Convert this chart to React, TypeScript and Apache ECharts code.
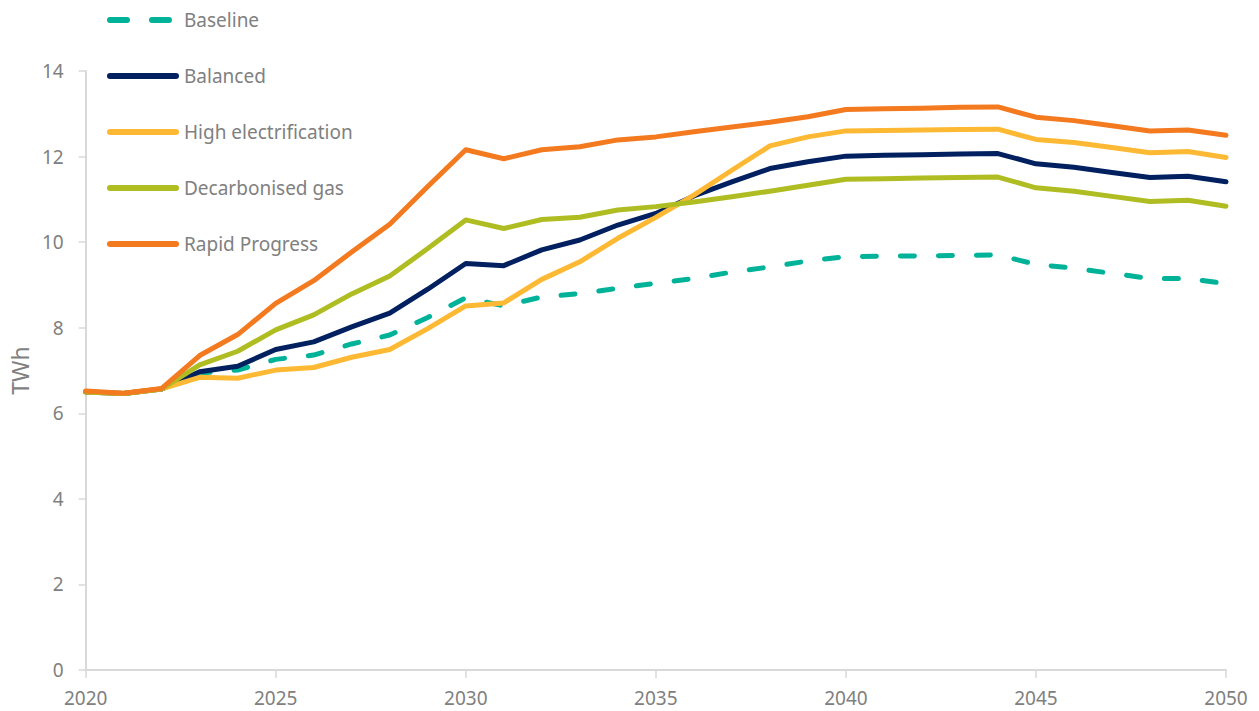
import React, { useEffect, useRef } from "react";
import * as echarts from "echarts";

const years = [2020, 2021, 2022, 2023, 2024, 2025, 2026, 2027, 2028, 2029, 2030, 2031, 2032, 2033, 2034, 2035, 2036, 2037, 2038, 2039, 2040, 2041, 2042, 2043, 2044, 2045, 2046, 2047, 2048, 2049, 2050];

const baseline = [6.5, 6.46, 6.57, 6.94, 7.01, 7.26, 7.36, 7.62, 7.83, 8.24, 8.7, 8.51, 8.72, 8.8, 8.92, 9.04, 9.15, 9.3, 9.42, 9.56, 9.66, 9.67, 9.68, 9.69, 9.7, 9.48, 9.39, 9.27, 9.15, 9.15, 9.03];
const balanced = [6.5, 6.46, 6.57, 6.97, 7.1, 7.49, 7.67, 8.02, 8.34, 8.9, 9.5, 9.45, 9.82, 10.05, 10.4, 10.67, 11.08, 11.41, 11.72, 11.88, 12.01, 12.03, 12.04, 12.06, 12.07, 11.83, 11.75, 11.63, 11.51, 11.54, 11.41];
const highElectrification = [6.5, 6.46, 6.57, 6.84, 6.82, 7.01, 7.07, 7.31, 7.49, 7.98, 8.51, 8.58, 9.13, 9.54, 10.09, 10.58, 11.1, 11.68, 12.25, 12.46, 12.6, 12.61, 12.62, 12.63, 12.64, 12.4, 12.33, 12.21, 12.09, 12.12, 11.98];
const decarbonisedGas = [6.5, 6.46, 6.57, 7.13, 7.45, 7.95, 8.3, 8.79, 9.21, 9.85, 10.52, 10.32, 10.53, 10.58, 10.75, 10.83, 10.94, 11.06, 11.19, 11.33, 11.47, 11.48, 11.5, 11.51, 11.52, 11.27, 11.19, 11.07, 10.95, 10.98, 10.84];
const rapidProgress = [6.52, 6.47, 6.58, 7.35, 7.84, 8.57, 9.1, 9.77, 10.42, 11.3, 12.16, 11.95, 12.16, 12.23, 12.39, 12.46, 12.58, 12.69, 12.8, 12.93, 13.1, 13.12, 13.13, 13.15, 13.16, 12.92, 12.84, 12.72, 12.6, 12.62, 12.5];

const seriesNames = ["Baseline", "Balanced", "High electrification", "Decarbonised gas", "Rapid Progress"];
const seriesColors = ["#00b398", "#002060", "#fdb933", "#afbd22", "#f47a20"];
const seriesValues = [baseline, balanced, highElectrification, decarbonisedGas, rapidProgress];

const FONT = "'Noto Sans', 'Open Sans', sans-serif";
const GREY = "#808080";

const solidIcon = "path://M3,0 L69,0 A3,3 0 0 1 69,6 L3,6 A3,3 0 0 1 3,0 Z";
const dashedIcon =
  "path://M3,0 L20,0 A3,3 0 0 1 20,6 L3,6 A3,3 0 0 1 3,0 Z M45,0 L62,0 A3,3 0 0 1 62,6 L45,6 A3,3 0 0 1 45,0 Z M72,3 L72,3";

export default function App() {
  const ref = useRef<HTMLDivElement>(null);

  useEffect(() => {
    if (!ref.current) return;
    const chart = echarts.init(ref.current, undefined, { renderer: "svg" });
    chart.setOption({
      animation: false,
      backgroundColor: "#ffffff",
      textStyle: { fontFamily: FONT },
      grid: { left: 84, right: 33, top: 71, bottom: 41, containLabel: false },
      legend: {
        orient: "vertical",
        left: 102,
        top: 5,
        itemWidth: 72,
        itemHeight: 6,
        itemGap: 36,
        symbolKeepAspect: false,
        textStyle: { color: GREY, fontSize: 19, fontFamily: FONT, lineHeight: 20 },
        data: seriesNames.map((name, i) => ({
          name,
          icon: i === 0 ? dashedIcon : solidIcon,
          itemStyle: { color: seriesColors[i] },
        })),
      },
      xAxis: {
        type: "value",
        min: 2020,
        max: 2050,
        interval: 5,
        axisLine: { show: true, lineStyle: { color: "#d9d9d9", width: 2 } },
        axisTick: { show: true, length: 8, lineStyle: { color: "#d9d9d9", width: 1.5 } },
        axisLabel: {
          color: GREY,
          fontSize: 19,
          margin: 18,
          fontFamily: FONT,
          formatter: (v: number) => String(v),
        },
        splitLine: { show: false },
      },
      yAxis: {
        type: "value",
        min: 0,
        max: 14,
        interval: 2,
        name: "TWh",
        nameLocation: "middle",
        nameGap: 52,
        nameTextStyle: { color: GREY, fontSize: 23, fontFamily: FONT },
        axisLine: { show: true, lineStyle: { color: "#d9d9d9", width: 2 } },
        axisTick: { show: true, length: 7, lineStyle: { color: "#d9d9d9", width: 1.5 } },
        axisLabel: { color: GREY, fontSize: 19, margin: 22, fontFamily: FONT },
        splitLine: { show: false },
      },
      series: seriesNames.map((name, i) => ({
        name,
        type: "line",
        data: years.map((y, j) => [y, seriesValues[i][j]]),
        symbol: "none",
        color: seriesColors[i],
        lineStyle: {
          color: seriesColors[i],
          width: 5,
          type: i === 0 ? [14, 24] : "solid",
          cap: "round",
          join: "round",
        },
        z: 2 + i,
      })),
    });
    return () => chart.dispose();
  }, []);

  return (
    <div
      ref={ref}
      style={{ position: "absolute", left: 0, top: 0, width: 1259, height: 711 }}
    />
  );
}
